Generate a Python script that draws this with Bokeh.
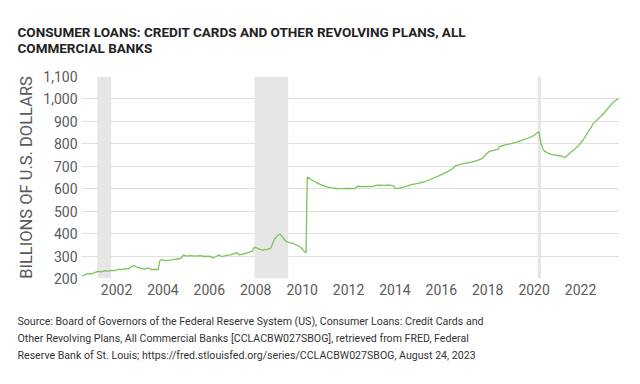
from bokeh.plotting import figure
from bokeh.models import (ColumnDataSource, FixedTicker, NumeralTickFormatter,
                          BoxAnnotation, Title, Range1d)
from bokeh.embed import file_html
from bokeh.resources import INLINE

years = [2000.50, 2000.60, 2000.75, 2000.90, 2001.05, 2001.20, 2001.35, 2001.50, 2001.65, 2001.80,
         2001.95, 2002.05, 2002.20, 2002.35, 2002.50, 2002.60, 2002.75, 2002.90, 2003.05, 2003.20,
         2003.35, 2003.50, 2003.65, 2003.80, 2003.86, 2003.95, 2004.10, 2004.30, 2004.50, 2004.70,
         2004.80, 2004.88, 2005.00, 2005.20, 2005.40, 2005.60, 2005.80, 2006.00, 2006.15, 2006.30,
         2006.40, 2006.55, 2006.70, 2006.90, 2007.10, 2007.20, 2007.30, 2007.50, 2007.70, 2007.85,
         2007.95, 2008.10, 2008.30, 2008.50, 2008.65, 2008.80, 2008.95, 2009.05, 2009.15, 2009.30,
         2009.45, 2009.60, 2009.80, 2009.95, 2010.10, 2010.17, 2010.22, 2010.40, 2010.60, 2010.80,
         2011.00, 2011.25, 2011.50, 2011.75, 2012.00, 2012.25, 2012.40, 2012.60, 2012.80, 2013.00,
         2013.25, 2013.50, 2013.75, 2013.95, 2014.00, 2014.25, 2014.50, 2014.75, 2015.00, 2015.25,
         2015.50, 2015.75, 2016.00, 2016.25, 2016.50, 2016.60, 2016.80, 2017.00, 2017.25, 2017.50,
         2017.75, 2017.90, 2018.05, 2018.30, 2018.45, 2018.50, 2018.75, 2019.00, 2019.25, 2019.50,
         2019.75, 2020.00, 2020.20, 2020.30, 2020.40, 2020.60, 2020.80, 2021.00, 2021.20, 2021.33,
         2021.50, 2021.70, 2021.90, 2022.10, 2022.30, 2022.55, 2022.80, 2023.00, 2023.20, 2023.40,
         2023.63]
loans = [212, 215, 222, 220, 226, 232, 230, 235, 233, 236,
         235, 241, 240, 244, 243, 250, 257, 250, 245, 242,
         247, 240, 241, 240, 278, 284, 280, 282, 285, 288,
         292, 305, 300, 302, 300, 302, 298, 300, 292, 298,
         304, 298, 302, 305, 312, 315, 305, 310, 316, 322,
         340, 333, 326, 330, 335, 375, 392, 398, 385, 366,
         360, 357, 347, 338, 320, 315, 652, 640, 628, 618,
         610, 604, 601, 600, 601, 600, 611, 609, 610, 609,
         616, 615, 616, 613, 600, 604, 612, 619, 624, 630,
         640, 651, 663, 675, 690, 702, 708, 713, 717, 724,
         734, 750, 765, 772, 776, 788, 795, 801, 808, 817,
         826, 838, 855, 800, 772, 758, 752, 748, 745, 738,
         755, 772, 790, 816, 848, 890, 915, 935, 960, 984,
         1002]

recession_start = [2001.17, 2007.95, 2020.15]
recession_end = [2001.77, 2009.40, 2020.30]

x_ticks = [2002, 2004, 2006, 2008, 2010, 2012, 2014, 2016, 2018, 2020, 2022]
y_ticks = [200, 300, 400, 500, 600, 700, 800, 900, 1000, 1100]

title_lines = ["CONSUMER LOANS: CREDIT CARDS AND OTHER REVOLVING PLANS, ALL",
               "COMMERCIAL BANKS"]
source_lines = ["Source: Board of Governors of the Federal Reserve System (US), Consumer Loans: Credit Cards and",
                "Other Revolving Plans, All Commercial Banks [CCLACBW027SBOG], retrieved from FRED, Federal",
                "Reserve Bank of St. Louis; https://fred.stlouisfed.org/series/CCLACBW027SBOG, August 24, 2023"]

W, H = 624, 380
p = figure(width=W, height=H, output_backend="svg", toolbar_location=None,
           x_range=Range1d(2000.49, 2023.68), y_range=Range1d(200, 1100),
           min_border_left=81, min_border_right=5, min_border_top=76, min_border_bottom=102)
p.outline_line_color = None
p.background_fill_color = "white"
p.border_fill_color = "white"

for s, e in zip(recession_start, recession_end):
    p.add_layout(BoxAnnotation(left=s, right=e, fill_color="#e6e6e6", fill_alpha=1.0,
                               line_color=None, level="underlay"))

src = ColumnDataSource(dict(x=years, y=loans))
p.line("x", "y", source=src, line_color="#7cc35a", line_width=1.3)

p.xaxis.ticker = FixedTicker(ticks=x_ticks)
p.yaxis.ticker = FixedTicker(ticks=y_ticks)
p.yaxis.formatter = NumeralTickFormatter(format="0,0")
for ax in (p.xaxis[0], p.yaxis[0]):
    ax.axis_line_color = None
    ax.major_tick_line_color = None
    ax.minor_tick_line_color = None
    ax.major_tick_out = 0
    ax.major_tick_in = 0
    ax.major_label_text_font = "Roboto"
    ax.major_label_text_font_size = "14px"
    ax.major_label_text_color = "#5a5a5a"
p.yaxis.major_label_standoff = 4
p.xaxis.major_label_standoff = 5
p.yaxis.axis_label = "BILLIONS OF U.S. DOLLARS"
p.yaxis.axis_label_text_font = "Roboto"
p.yaxis.axis_label_text_font_style = "normal"
p.yaxis.axis_label_text_font_size = "16.5px"
p.yaxis.axis_label_text_color = "#5a5a5a"
p.yaxis.axis_label_standoff = 4
p.xgrid.grid_line_color = None
p.ygrid.grid_line_color = "#e0e0e0"
p.ygrid.grid_line_width = 1

FL = 81
p.title = Title(text="\n".join(title_lines), align="left", offset=17 - FL, standoff=42,
                text_font="Roboto", text_font_style="bold", text_font_size="13.5px",
                text_color="#222222", text_line_height=1.0)
p.add_layout(Title(text="\n".join(source_lines), align="left", offset=17 - FL, standoff=32,
                   text_font="Roboto", text_font_style="normal", text_font_size="10.6px",
                   text_color="#333333", text_line_height=1.32), "below")

open("out.html", "w").write(file_html(p, INLINE))
